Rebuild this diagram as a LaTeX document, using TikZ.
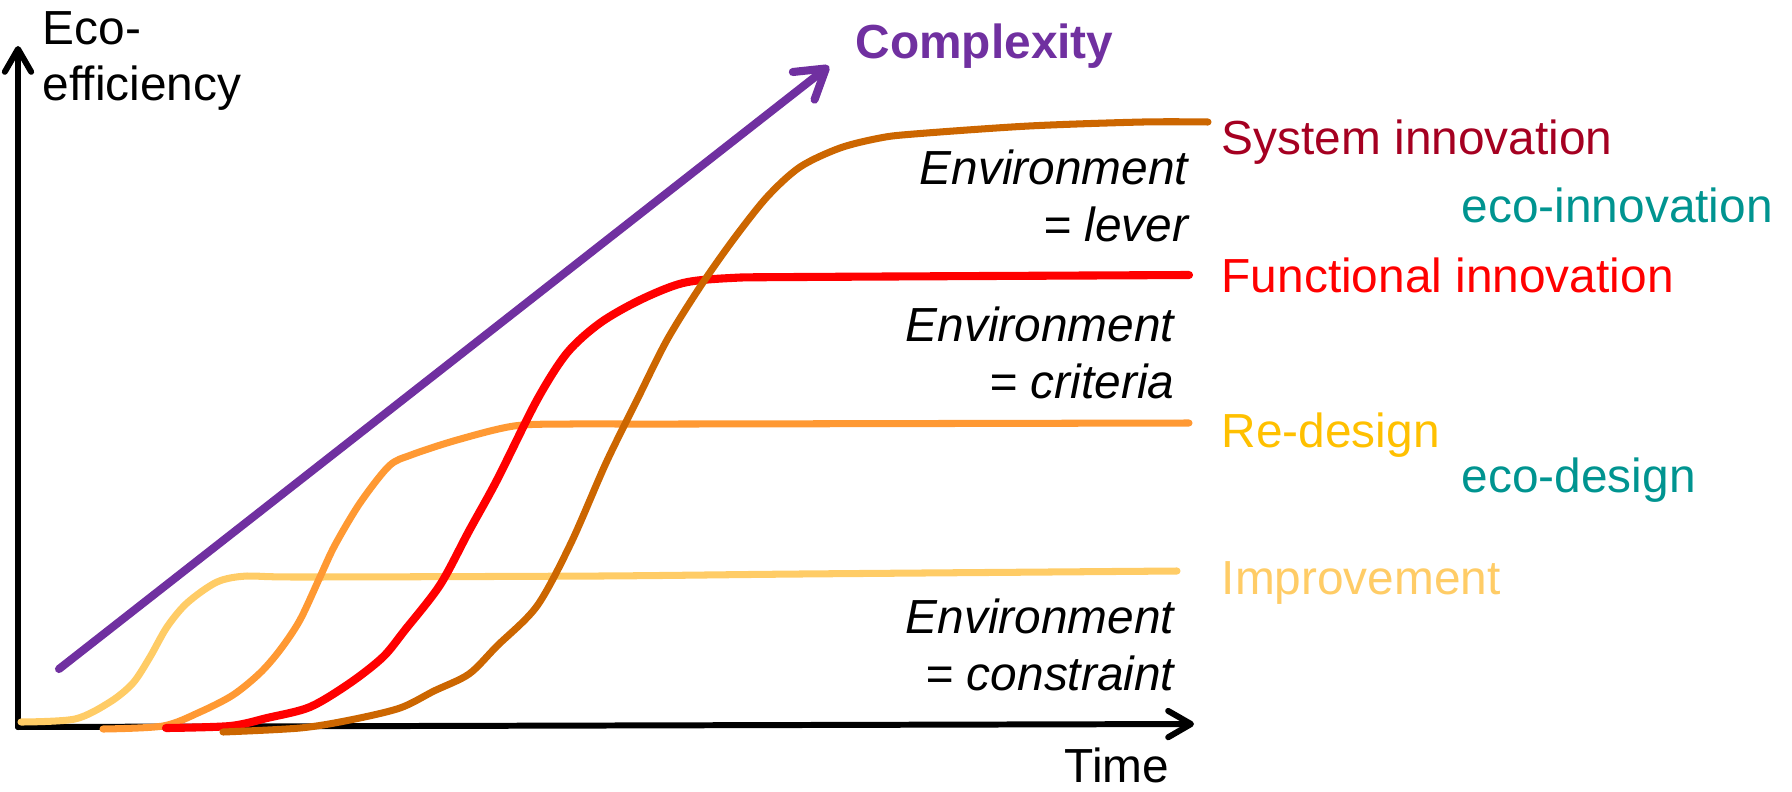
\documentclass[tikz,border=0pt]{standalone}
\usepackage{tkz-euclide}
\usepackage{tikz}
\usepackage{fontspec}
\setmainfont{Liberation Sans}
\usetikzlibrary{arrows.meta}

\definecolor{cplxpurple}{HTML}{7030A0}
\definecolor{sysbrown}{HTML}{CC6600}
\definecolor{sysred}{HTML}{A50021}
\definecolor{redesign}{HTML}{FF9933}
\definecolor{redesigntxt}{HTML}{FFC000}
\definecolor{improve}{HTML}{FFCC66}
\definecolor{ecoteal}{HTML}{009490}

\begin{document}
\begin{tikzpicture}[x=0.01cm,y=-0.01cm,
    lbl/.style={inner sep=0pt, font=\fontsize{13.6}{16}\selectfont},
    envlbl/.style={lbl, align=right, font=\fontsize{13.6}{16}\selectfont\itshape},
    curve/.style={line width=2pt, line cap=round, line join=round}]
    \useasboundingbox (0,0) rectangle (1792,791);
    \tkzDefPoint(18,727){O}
    \tkzDefPoint(18,46){Y}
    \tkzDefPoint(1194,724){X}
    \tkzDefPoint(59,669){C_1}
    \tkzDefPoint(829,66){C_2}
    \tkzDrawSegments[line width=1.7pt,-{Straight Barb[length=6.5pt,width=7.5pt,round]}](O,Y O,X)
    \tkzDrawSegments[cplxpurple,line width=2.3pt,-{Straight Barb[length=8pt,width=10pt,round]}](C_1,C_2)
    % improvement
    \draw[curve, improve] plot[smooth, tension=0.5] coordinates {(21,722) (75,719) (110,702) (133,683) (150,657) (167,627) (187,603) (217,582) (247,576) (300,577) (600,576) (800,574) (1177,571)};
    % re-design
    \draw[curve, redesign] plot[smooth, tension=0.5] coordinates {(103,729) (163,726) (200,712) (233,695) (260,673) (280,650) (300,620) (320,577) (335,545) (360,503) (389,466) (411,455) (457,440) (514,426) (571,424) (686,424) (1189,423)};
    % functional innovation
    \draw[curve, red, line width=2.3pt] plot[smooth, tension=0.5] coordinates {(166,728) (230,726) (267,718) (310,707) (350,683) (383,657) (405,630) (440,585) (469,531) (497,480) (537,400) (567,353) (600,323) (640,300) (683,283) (731,278) (800,277) (1189,275)};
    % system innovation
    \draw[curve, sysbrown] plot[smooth, tension=0.5] coordinates {(223,732) (300,728) (350,720) (400,708) (434,691) (469,674) (497,646) (537,606) (571,543) (606,463) (637,400) (667,340) (700,287) (733,240) (767,197) (800,167) (840,148) (880,138) (914,134) (1029,126) (1143,122) (1208,122)};
    \node[lbl, align=left, anchor=west] (ecoeff) at (42,61) {Eco-\\efficiency};
    \node[lbl, anchor=base west] (time) at (1064,782) {Time};
    \node[lbl, anchor=base west, cplxpurple, font=\fontsize{13.6}{16}\selectfont\bfseries] (cplx) at (855,59) {Complexity};
    \node[lbl, anchor=base west, sysred] (sysinno) at (1221,154) {System innovation};
    \node[lbl, anchor=base west, ecoteal] (ecoinno) at (1461,222) {eco-innovation};
    \node[lbl, anchor=base west, red] (funcinno) at (1221,292) {Functional innovation};
    \node[lbl, anchor=base west, redesigntxt] (redes) at (1221,447) {Re-design};
    \node[lbl, anchor=base west, ecoteal] (ecodes) at (1461,492) {eco-design};
    \node[lbl, anchor=base west, improve] (improv) at (1221,594) {Improvement};
    \node[envlbl, anchor=east] (envlever) at (1189,196) {Environment\\= lever};
    \node[envlbl, anchor=east] (envcrit) at (1175,353) {Environment\\= criteria};
    \node[envlbl, anchor=east] (envcons) at (1175,645) {Environment\\= constraint};
\end{tikzpicture}
\end{document}
